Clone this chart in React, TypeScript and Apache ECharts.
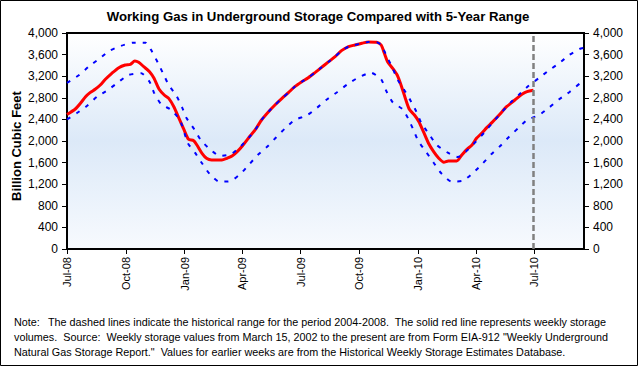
import React, { useEffect, useRef } from 'react';
import * as echarts from 'echarts';

// Weekly working gas in storage (Bcf)
const weeklyStorage: [string, number][] = [
  ['2008-07-01', 2490], ['2008-07-14', 2593], ['2008-07-22', 2698], ['2008-07-30', 2820],
  ['2008-08-06', 2895], ['2008-08-14', 2957], ['2008-08-22', 3037], ['2008-08-30', 3143],
  ['2008-09-09', 3254], ['2008-09-20', 3358], ['2008-09-30', 3407], ['2008-10-08', 3420],
  ['2008-10-15', 3481], ['2008-10-21', 3457], ['2008-10-29', 3376], ['2008-11-07', 3283],
  ['2008-11-14', 3161], ['2008-11-22', 2957], ['2008-11-30', 2852], ['2008-12-07', 2790],
  ['2008-12-15', 2635], ['2008-12-23', 2420], ['2008-12-31', 2204], ['2009-01-07', 2031],
  ['2009-01-15', 2006], ['2009-01-20', 1926], ['2009-01-28', 1772], ['2009-02-04', 1680],
  ['2009-02-12', 1648], ['2009-02-28', 1648], ['2009-03-08', 1680], ['2009-03-16', 1722],
  ['2009-03-24', 1802], ['2009-04-01', 1907], ['2009-04-11', 2061], ['2009-04-21', 2204],
  ['2009-05-01', 2389], ['2009-05-12', 2543], ['2009-05-22', 2667], ['2009-06-02', 2790],
  ['2009-06-12', 2895], ['2009-06-22', 3006], ['2009-07-03', 3098], ['2009-07-13', 3172],
  ['2009-07-24', 3272], ['2009-08-03', 3365], ['2009-08-14', 3469], ['2009-08-24', 3562],
  ['2009-09-03', 3673], ['2009-09-14', 3747], ['2009-09-24', 3778], ['2009-10-05', 3810],
  ['2009-10-15', 3834], ['2009-10-28', 3828], ['2009-11-04', 3778], ['2009-11-09', 3624],
  ['2009-11-14', 3469], ['2009-11-22', 3346], ['2009-11-29', 3222], ['2009-12-05', 3037],
  ['2009-12-11', 2820], ['2009-12-18', 2587], ['2009-12-26', 2482], ['2010-01-02', 2358],
  ['2010-01-09', 2173], ['2010-01-17', 1958], ['2010-01-25', 1802], ['2010-02-02', 1680],
  ['2010-02-10', 1606], ['2010-02-17', 1630], ['2010-03-02', 1630], ['2010-03-10', 1741],
  ['2010-03-18', 1846], ['2010-03-26', 1926], ['2010-04-02', 2050], ['2010-04-10', 2142],
  ['2010-04-18', 2247], ['2010-04-26', 2340], ['2010-05-04', 2439], ['2010-05-12', 2543],
  ['2010-05-19', 2636], ['2010-05-27', 2710], ['2010-06-04', 2790], ['2010-06-12', 2864],
  ['2010-06-20', 2914], ['2010-06-30', 2939],
];

// Upper edge of the 5-year range (Bcf)
const fiveYearMax: [string, number][] = [
  ['2008-07-01', 3075], ['2008-07-20', 3222], ['2008-08-05', 3389], ['2008-08-20', 3519],
  ['2008-09-05', 3667], ['2008-09-23', 3760], ['2008-10-12', 3821], ['2008-11-01', 3821],
  ['2008-11-11', 3654], ['2008-11-20', 3450], ['2008-11-28', 3254], ['2008-12-07', 3037],
  ['2008-12-19', 2839], ['2008-12-28', 2617], ['2009-01-04', 2420], ['2009-01-16', 2217],
  ['2009-01-26', 2019], ['2009-02-09', 1852], ['2009-02-25', 1722], ['2009-03-14', 1754],
  ['2009-03-30', 1907], ['2009-04-11', 2061], ['2009-04-21', 2204], ['2009-05-01', 2389],
  ['2009-05-12', 2543], ['2009-05-22', 2667], ['2009-06-02', 2790], ['2009-06-12', 2895],
  ['2009-06-22', 3006], ['2009-07-03', 3098], ['2009-07-13', 3172], ['2009-07-24', 3272],
  ['2009-08-03', 3365], ['2009-08-14', 3469], ['2009-08-24', 3562], ['2009-09-03', 3673],
  ['2009-09-14', 3747], ['2009-09-24', 3778], ['2009-10-05', 3810], ['2009-10-15', 3834],
  ['2009-10-28', 3828], ['2009-11-04', 3778], ['2009-11-13', 3562], ['2009-11-22', 3346],
  ['2009-11-30', 3130], ['2009-12-10', 2945], ['2009-12-20', 2747], ['2009-12-29', 2543],
  ['2010-01-06', 2328], ['2010-01-17', 2142], ['2010-01-30', 1926], ['2010-02-16', 1784],
  ['2010-03-04', 1704], ['2010-03-19', 1833], ['2010-03-31', 1976], ['2010-04-14', 2154],
  ['2010-04-27', 2339], ['2010-05-10', 2513], ['2010-05-25', 2710], ['2010-06-08', 2864],
  ['2010-06-22', 3019], ['2010-07-08', 3161], ['2010-07-25', 3315], ['2010-08-09', 3438],
  ['2010-08-25', 3593], ['2010-09-10', 3704], ['2010-09-17', 3725],
];

// Lower edge of the 5-year range (Bcf)
const fiveYearMin: [string, number][] = [
  ['2008-07-01', 2400], ['2008-07-16', 2513], ['2008-08-01', 2648], ['2008-08-17', 2820],
  ['2008-09-03', 2945], ['2008-09-19', 3087], ['2008-10-05', 3222], ['2008-10-25', 3254],
  ['2008-11-07', 3098], ['2008-11-14', 2895], ['2008-11-25', 2685], ['2008-12-11', 2574],
  ['2008-12-25', 2376], ['2009-01-06', 1957], ['2009-01-17', 1784], ['2009-01-28', 1587],
  ['2009-02-09', 1389], ['2009-02-24', 1247], ['2009-03-14', 1259], ['2009-03-30', 1402],
  ['2009-04-12', 1569], ['2009-04-25', 1741], ['2009-05-11', 1907], ['2009-05-24', 2069],
  ['2009-06-07', 2235], ['2009-06-22', 2389], ['2009-07-11', 2476], ['2009-07-27', 2617],
  ['2009-08-10', 2760], ['2009-08-27', 2902], ['2009-09-13', 3056], ['2009-09-30', 3180],
  ['2009-10-19', 3265], ['2009-11-04', 3142], ['2009-11-12', 2926], ['2009-11-22', 2717],
  ['2009-12-07', 2593], ['2009-12-16', 2420], ['2009-12-24', 2217], ['2010-01-01', 2000],
  ['2010-01-13', 1802], ['2010-01-25', 1598], ['2010-02-06', 1402], ['2010-02-22', 1247],
  ['2010-03-12', 1265], ['2010-03-28', 1413], ['2010-04-12', 1587], ['2010-04-25', 1754],
  ['2010-05-09', 1907], ['2010-05-23', 2080], ['2010-06-06', 2235], ['2010-06-20', 2389],
  ['2010-07-09', 2482], ['2010-07-25', 2624], ['2010-08-09', 2772], ['2010-08-26', 2913],
  ['2010-09-11', 3069], ['2010-09-17', 3095],
];

const axisStart = '2008-07-01';
const axisEnd = '2010-09-17';
const currentWeek = '2010-06-30';
const tickMonths = ['01', '04', '07', '10'];
const monthNames = ['Jan', 'Feb', 'Mar', 'Apr', 'May', 'Jun', 'Jul', 'Aug', 'Sep', 'Oct', 'Nov', 'Dec'];
const yMin = 0;
const yMax = 4000;
const yInterval = 400;

const chartTitle = 'Working Gas in Underground Storage Compared with 5-Year Range';
const yAxisTitle = 'Billion Cubic Feet';
const noteLabel = 'Note:';
const noteLines = [
  'The dashed lines indicate the historical range for the period 2004-2008.  The solid red line represents weekly storage',
  'volumes.  Source:  Weekly storage values from March 15, 2002 to the present are from Form EIA-912 "Weekly Underground',
  'Natural Gas Storage Report."  Values for earlier weeks are from the Historical Weekly Storage Estimates Database.',
];

const FONT = '"Liberation Sans", Arial, Helvetica, sans-serif';
const NOTE_SIZE = 10.8;

function buildDays(start: string, end: string): string[] {
  const out: string[] = [];
  const s = Date.parse(start + 'T00:00:00Z');
  const e = Date.parse(end + 'T00:00:00Z');
  for (let t = s; t <= e; t += 86400000) {
    out.push(new Date(t).toISOString().slice(0, 10));
  }
  return out;
}

const isQuarterStart = (_i: number, v: string) =>
  v.slice(8) === '01' && tickMonths.includes(v.slice(5, 7));

export default function App() {
  const ref = useRef<HTMLDivElement>(null);

  useEffect(() => {
    if (!ref.current) return;
    const chart = echarts.init(ref.current, null, { renderer: 'svg' });
    const days = buildDays(axisStart, axisEnd);

    const yAxisCommon = {
      type: 'value' as const,
      min: yMin,
      max: yMax,
      interval: yInterval,
      splitLine: { show: false },
      axisLine: { show: true, lineStyle: { color: '#000', width: 2 } },
      axisTick: { show: true, length: 5, lineStyle: { color: '#000', width: 1 } },
      axisLabel: {
        color: '#000',
        fontSize: 12,
        fontFamily: FONT,
        margin: 9,
        formatter: (v: number) => v.toLocaleString('en-US'),
      },
    };

    chart.setOption({
      animation: false,
      backgroundColor: '#fff',
      grid: {
        left: 67,
        right: 54,
        top: 33,
        bottom: 117,
        show: true,
        borderColor: '#000',
        borderWidth: 2,
        backgroundColor: {
          type: 'linear',
          x: 0, y: 0, x2: 0, y2: 1,
          colorStops: [
            { offset: 0, color: '#ffffff' },
            { offset: 0.5, color: '#dce9f8' },
            { offset: 1, color: '#f7fafe' },
          ],
        },
      },
      xAxis: {
        type: 'category',
        data: days,
        boundaryGap: false,
        axisLine: { lineStyle: { color: '#000', width: 2 } },
        axisTick: { show: true, interval: isQuarterStart, length: 5, lineStyle: { color: '#000', width: 1 } },
        axisLabel: {
          interval: isQuarterStart,
          rotate: 90,
          fontSize: 11,
          fontFamily: FONT,
          color: '#000',
          margin: 8,
          formatter: (v: string) => monthNames[Number(v.slice(5, 7)) - 1] + '-' + v.slice(2, 4),
        },
        splitLine: { show: false },
      },
      yAxis: [
        { ...yAxisCommon, position: 'left' },
        { ...yAxisCommon, position: 'right' },
      ],
      series: [
        {
          name: 'Working Gas',
          type: 'line',
          data: weeklyStorage,
          showSymbol: false,
          smooth: 0.25,
          lineStyle: { color: '#ff0000', width: 3 },
          z: 2,
        },
        {
          name: '5-Year Maximum',
          type: 'line',
          data: fiveYearMax,
          showSymbol: false,
          smooth: 0.2,
          lineStyle: { color: '#0000ff', width: 2, type: [4, 7] },
          z: 3,
        },
        {
          name: '5-Year Minimum',
          type: 'line',
          data: fiveYearMin,
          showSymbol: false,
          smooth: 0.2,
          lineStyle: { color: '#0000ff', width: 2, type: [4, 7] },
          z: 3,
          markLine: {
            silent: true,
            symbol: ['none', 'none'],
            label: { show: false },
            lineStyle: { color: '#808080', width: 2.5, type: [6, 3] },
            data: [{ xAxis: currentWeek }],
            z: 4,
          },
        },
      ],
      graphic: [
        {
          type: 'rect',
          shape: { x: 0.5, y: 0.5, width: 637, height: 365 },
          style: { fill: 'none', stroke: '#000', lineWidth: 1 },
          silent: true,
          z: 10,
        },
        {
          type: 'text',
          x: 318,
          y: 16,
          style: {
            text: chartTitle,
            fontFamily: FONT,
            fontSize: 13.2,
            fontWeight: 'bold',
            fill: '#000',
            textAlign: 'center',
            textVerticalAlign: 'middle',
          },
        },
        {
          type: 'text',
          x: 16,
          y: 146,
          rotation: Math.PI / 2,
          style: {
            text: yAxisTitle,
            fontFamily: FONT,
            fontSize: 13,
            fontWeight: 'bold',
            fill: '#000',
            textAlign: 'center',
            textVerticalAlign: 'middle',
          },
        },
        {
          type: 'text',
          x: 14,
          y: 322,
          style: { text: noteLabel, fontFamily: FONT, fontSize: NOTE_SIZE, fill: '#000', textVerticalAlign: 'middle' },
        },
        {
          type: 'text',
          x: 48,
          y: 322,
          style: { text: noteLines[0], fontFamily: FONT, fontSize: NOTE_SIZE, fill: '#000', textVerticalAlign: 'middle' },
        },
        {
          type: 'text',
          x: 14,
          y: 337,
          style: { text: noteLines[1], fontFamily: FONT, fontSize: NOTE_SIZE, fill: '#000', textVerticalAlign: 'middle' },
        },
        {
          type: 'text',
          x: 14,
          y: 352,
          style: { text: noteLines[2], fontFamily: FONT, fontSize: NOTE_SIZE, fill: '#000', textVerticalAlign: 'middle' },
        },
      ],
    });

    return () => chart.dispose();
  }, []);

  return (
    <div
      ref={ref}
      style={{ position: 'absolute', left: 0, top: 0, width: 638, height: 366 }}
    />
  );
}
